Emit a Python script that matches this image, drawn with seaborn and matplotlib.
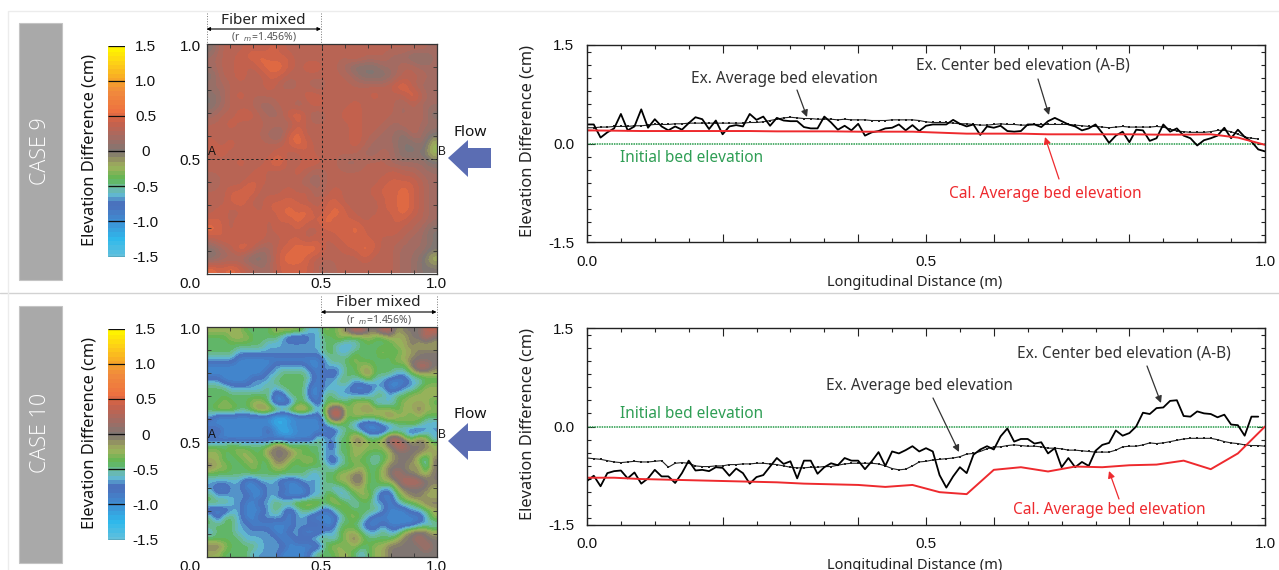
import numpy as np
import matplotlib
matplotlib.use("Agg")
import matplotlib.pyplot as plt
import seaborn as sns
from matplotlib.colors import LinearSegmentedColormap
from matplotlib.patches import Polygon, Rectangle
from matplotlib.ticker import MultipleLocator

W, H = 1279, 570

# ========== Data ==========
case9_center = [.29, .29, .09, .17, .23, .45, .20, .26, .52, .24, .37, .26, .20, .26, .21, .31, .40, .37, .22, .35,
                .14, .26, .28, .26, .45, .36, .41, .27, .39, .35, .34, .34, .25, .23, .23, .41, .32, .21, .27, .20,
                .30, .12, .17, .19, .23, .24, .29, .20, .28, .19, .27, .29, .29, .29, .36, .30, .26, .29, .13, .26,
                .24, .27, .19, .18, .19, .29, .29, .25, .34, .39, .34, .29, .26, .20, .23, .29, .16, .01, .12, .18,
                .02, .21, .20, .04, .08, .29, .18, .23, .12, .08, -.03, .05, .08, .12, .24, .08, .21, .10, .03, -.09,
                -.12]
case9_average = [.24, .24, .25, .25, .26, .26, .26, .27, .27, .28, .29, .29, .29, .30, .30, .31, .31, .31, .31, .31,
                 .31, .31, .31, .31, .32, .32, .33, .35, .37, .39, .40, .39, .38, .38, .37, .37, .37, .36, .37, .36,
                 .36, .36, .35, .35, .35, .36, .36, .36, .36, .35, .33, .32, .32, .32, .31, .30, .30, .29, .28, .28,
                 .29, .30, .29, .29, .28, .28, .29, .29, .29, .29, .29, .29, .28, .27, .26, .26, .25, .24, .25, .26,
                 .25, .25, .25, .25, .26, .25, .22, .19, .18, .17, .17, .17, .18, .20, .20, .18, .14, .10, .08, .07]
case9_cal_x = [0, .04, .08, .12, .16, .20, .24, .28, .32, .36, .40, .44, .48, .52, .56, .60, .64, .68, .72, .76, .80,
               .84, .88, .92, .96, 1.0]
case9_cal = [.20, .195, .19, .19, .19, .19, .19, .185, .185, .185, .18, .18, .18, .165, .15, .15, .15, .14, .14, .14,
             .14, .135, .135, .14, .09, -.02]

case10_center = [-.83, -.75, -.91, -.71, -.68, -.67, -.79, -.70, -.87, -.79, -.66, -.76, -.76, -.86, -.71, -.52, -.67,
                 -.66, -.68, -.62, -.63, -.75, -.64, -.71, -.87, -.77, -.74, -.61, -.48, -.57, -.53, -.79, -.52, -.52,
                 -.72, -.62, -.56, -.59, -.48, -.52, -.52, -.65, -.53, -.39, -.60, -.38, -.41, -.36, -.30, -.38, -.33,
                 -.38, -.74, -.93, -.76, -.62, -.71, -.43, -.35, -.30, -.35, -.15, -.03, -.23, -.19, -.19, -.26, -.24,
                 -.41, -.33, -.62, -.48, -.62, -.54, -.60, -.37, -.28, -.25, -.06, -.14, -.10, 0, .21, .19, .28, .29,
                 .39, .40, .16, .15, .23, .20, .19, .14, .18, .03, .02, -.14, .15, .15]
case10_average = [-.48, -.49, -.50, -.52, -.54, -.55, -.54, -.53, -.54, -.54, -.53, -.52, -.62, -.56, -.55, -.56, -.60,
                  -.61, -.61, -.60, -.60, -.58, -.58, -.57, -.57, -.56, -.56, -.57, -.58, -.60, -.62, -.63, -.63, -.62,
                  -.62, -.61, -.61, -.59, -.57, -.56, -.56, -.56, -.56, -.57, -.60, -.64, -.66, -.65, -.60, -.54, -.53,
                  -.51, -.50, -.49, -.48, -.46, -.42, -.41, -.38, -.34, -.31, -.31, -.29, -.28, -.29, -.30, -.30, -.31,
                  -.33, -.33, -.34, -.36, -.36, -.37, -.38, -.39, -.39, -.39, -.36, -.31, -.30, -.30, -.28, -.25, -.26,
                  -.25, -.23, -.21, -.19, -.18, -.18, -.18, -.18, -.20, -.23, -.25, -.26, -.28, -.29, -.29, -.30, -.30,
                  -.31, -.31, -.29, -.27]
case10_cal_x = case9_cal_x
case10_cal = [-.78, -.78, -.80, -.81, -.82, -.83, -.84, -.85, -.87, -.88, -.89, -.92, -.89, -1.0, -1.03, -.66, -.62,
              -.685, -.61, -.62, -.59, -.58, -.52, -.65, -.41, 0]

initial_x = [0, 1]
initial_bed = [0, 0]

# elevation read per cell, one letter per cell
case9_levels = {"y": -.25, "a": .04, "b": .2, "c": .33, "d": .45, "e": .58}
case9_rows = [
    "acccdcddcccc" "cccccccccccb",
    "bccddedddccc" "cccdcccbbaab",
    "bccdcdeedcdd" "ccbaaabbccbb",
    "accdccddcccc" "cccbaaabcccb",
    "bbccccdcbccb" "cccccccdecbb",
    "abcdccccdcdd" "cccccdcccecb",
    "abcccbbccbcd" "cccdccccbcbb",
    "bccddcbbdecb" "ccddccccbcca",
    "ccdcccccbdcc" "cccdcccbccbb",
    "ccccccbadecc" "cccdccbbacba",
    "dcdcccccdedc" "cccdcbbbaaby",
    "cdcccccdccdc" "ccccbbcbaaay",
    "cccdccdeccdd" "ccbbcccbbbba",
    "cccccdcccdcb" "cccccccdccbb",
    "bcccddccccbb" "ccccccddddcb",
    "ccddecccdcdb" "cdcccdddedcb",
    "ccdeccddddcc" "ddccccddedcb",
    "cdccdcddedec" "dedcccddedcb",
    "ddcdddcddedd" "edddcdcddccb",
    "edcdcdcdcdcc" "dddedcddccba",
    "cddcddccddcd" "cdddddcccbba",
    "abcedbbddeee" "ccddedccbbba",
    "abbbaabdeedc" "ccccdcccbbay",
    "ededcbbddddc" "bcccccccbbaa",
]

case10_levels = {"L": -1.15, "B": -.92, "C": -.63, "G": -.4, "O": -.2, "T": .02, "R": .36}
case10_rows = [
    "OOOOOGGGGOOOOGCC" "OGOTRRTTRROTTTRR",
    "GGGOOOGGGGCBBBCC" "GGOGGGOGGOOOTTRT",
    "GGGGGGGGCCCCCCCC" "GGCCCGGGGGOOTOOO",
    "GGGGCCCCCCCCCCCC" "GGCCGGGGOGGOOTTT",
    "CCCCBBBBBBBBBBBB" "CGGGOGGGGGOOTTTT",
    "BBBBBBBBBCCCCCBB" "CCCGGOOGGGGGTRRT",
    "BBBBBBBBCCGGGGCB" "CBCGGOTGGGCCGOOO",
    "CCBBBBCCCGGGGGCB" "CCGGCCGCCBBBCCGG",
    "GGGCCCCCGCGGGGBB" "CCCCBBBCCBBCCGOO",
    "GGGGGGGGGBBGGGBB" "GGCCCCCGGCGGOOOO",
    "GGOGGGOOGBBBGGCB" "GGGGOOOCCCGOOOOG",
    "GOOOGGOTTOGOTTOC" "ORRGOOTOOOGOOTOO",
    "CBBBBBBBBLLLBBBB" "GRRGOOGOOTOOGOGG",
    "BBBBBBBBBLLBBBBB" "CGGGCBBBCCGGOGCC",
    "CCBBBBBBCBLLBBBB" "BBCGGCBBBCCCBBCC",
    "BBBBBBBBBBBBBBBG" "CCGGTTGGORROGTOC",
    "GGGOGGGGGTTGGOGG" "CBGGOOOOOTRRTTTO",
    "OOGGOOGGTTTTOGGG" "CCGGOOGGGOTTTTOO",
    "OOGGGOOGGTTOGOOG" "CBCGOGGCGOTTTGCT",
    "TOOGGGOGGOOGGGGG" "GCGGGOGGOTTTOTCT",
    "GGGGGGGGGGGGGGCC" "GGOOTTGGOTRTTOOT",
    "CCCCCBBCCCBBBCCC" "GGOOTTGGOOTRRRTT",
    "CBBCCBBBCCCBBBCC" "GCCGOOGGCCOTTTTO",
    "GCCCCCBBCCBBBBCC" "GOCCGOOCBBGOTTOO",
    "GGGCCBBCCGGGOOOO" "GOOGCGGCCBCGGOTT",
    "BBBCCBBBCGCBCGGC" "BCGOGGGGCBBBCCGO",
    "GBGGCBBCCCCBCCBB" "BBCGOGCBBBBBBBCO",
    "GGGGCCBBBBBBCCCC" "BBGGGCBBCBBBBCCC",
    "CGGGCCCCCBBCCBBB" "CCGOOGCCGCCOTTTO",
    "GGGGGCCCCCBBCCCG" "GCGOTOGGGGOTTRTT",
    "TTOGGGGCCCCBBBBB" "GOOGOGGOOTTTTTRT",
    "OOGGGGCCCCBBBBCG" "GGOOGCGOOTTTTTTT",
]

case9_map = [[case9_levels[c] for c in row] for row in case9_rows]
case10_map = [[case10_levels[c] for c in row] for row in case10_rows]

cbar_ticks = [-1.5, -1, -.5, 0, .5, 1, 1.5]
cbar_labels = ["-1.5", "-1.0", "-0.5", "0", "0.5", "1.0", "1.5"]
map_ticks = ["0.0", "0.5", "1.0"]

# colour stops
cmap_values = [-1.5, -1.25, -1.0, -.78, -.72, -.62, -.5, -.38, -.2, -.05, 0, .25, .45, .6, .9, 1.05, 1.3, 1.5]
cmap_colors = ["#62c0dc", "#2fb9ec", "#3e8fd4", "#4a72bd", "#4a72bd", "#5fb6d6", "#6dbb9f", "#5db552", "#9fb25c",
               "#8d8465", "#7b7875", "#a86a60", "#c9604a", "#ee7040", "#f08c3c", "#f7a428", "#fdd017", "#fff200"]
stops = [(v + 1.5) / 3 for v in cmap_values]
elev_cmap = LinearSegmentedColormap.from_list("elev", list(zip(stops, cmap_colors)), N=48)

# ========== Figure ==========
sns.set_style("white")
plt.rcParams["font.family"] = ["Liberation Sans", "DejaVu Sans"]
JP_FONT = "Noto Sans"
TXT = "#333333"
RED = "#ee2a2e"

fig = plt.figure(figsize=(W / 100, H / 100), dpi=100)


def px_axes(x0, y0, x1, y1):
    return fig.add_axes([x0 / W, 1 - y1 / H, (x1 - x0) / W, (y1 - y0) / H])


# overlay in pixel coordinates for the labels and decorations
over = fig.add_axes([0, 0, 1, 1], zorder=10)
over.set_xlim(0, W)
over.set_ylim(H, 0)
over.axis("off")
over.patch.set_alpha(0)

for xs, ys, col in [([9, W], [11, 11], "#ececec"), ([0, W], [293, 293], "#d2d2d2"), ([8, 8], [11, H], "#ececec")]:
    over.plot(xs, ys, color=col, lw=1)


def draw_panel(top, name, name_y, map_data, fiber_x0, fiber_x1, center, average, cal_x, cal, notes):
    over.add_patch(Rectangle((19, top + 23), 43, 257, fc="#a9a9a9", ec="#c4c4c4", lw=.8))
    over.text(41, top + name_y, name, color="white", rotation=90, ha="center", va="center",
              fontsize=15.5, family="Open Sans", fontweight="light")

    # colour bar + map
    ax_map = px_axes(206.5, top + 44, 436.5, top + 273.5)
    im = ax_map.imshow(map_data, extent=[0, 1, 0, 1], aspect="auto", cmap=elev_cmap, vmin=-1.5, vmax=1.5,
                       interpolation="bicubic")
    ax_map.axhline(.5, color="#222222", lw=.7, ls=(0, (2.5, 2.5)))
    ax_map.axvline(.5, color="#222222", lw=.7, ls=(0, (2.5, 2.5)))
    ax_map.xaxis.set_major_locator(MultipleLocator(.2))
    ax_map.yaxis.set_major_locator(MultipleLocator(.2))
    ax_map.xaxis.set_minor_locator(MultipleLocator(.1))
    ax_map.yaxis.set_minor_locator(MultipleLocator(.1))
    ax_map.tick_params(which="both", direction="in", top=True, right=True, bottom=True, left=True, length=3,
                       width=.6, color="#333333", labelbottom=False, labelleft=False)
    for s in ax_map.spines.values():
        s.set_visible(True)
        s.set_color("#333333")
        s.set_linewidth(.9)

    cax = px_axes(108, top + 45.5, 125, top + 256.5)
    cb = fig.colorbar(im, cax=cax, ticks=cbar_ticks)
    cb.outline.set_visible(False)
    cb.solids.set_edgecolor("face")
    cb.ax.tick_params(length=0, pad=15, labelsize=11)
    cb.ax.set_yticklabels(cbar_labels)
    for lab in cb.ax.get_yticklabels():
        lab.set_ha("center")
        lab.set_color("#111111")
    cb.ax.hlines(cbar_ticks, 0, 1, color="#111111", lw=.9, transform=cb.ax.get_yaxis_transform())

    over.text(90, top + 150, "Elevation Difference (cm)", rotation=90, ha="center", va="center",
              fontsize=11.8, family=JP_FONT, color="#111111")

    for label, y in zip(map_ticks[::-1], [47, 161]):
        over.text(190, top + y, label, ha="center", va="center", fontsize=11, color="#111111")
    for label, x in zip(map_ticks, [190, 321, 436]):
        over.text(x, top + 284, label, ha="center", va="center", fontsize=11, color="#111111")
    over.text(212, top + 152, "A", ha="center", va="center", fontsize=8.5, color="#111111")
    over.text(442, top + 152, "B", ha="center", va="center", fontsize=8.5, color="#111111")

    # fibre bracket
    mid = (fiber_x0 + fiber_x1) / 2
    for x in (fiber_x0, fiber_x1):
        over.plot([x, x], [top + 13, top + 44], color="#777777", lw=.7, ls=":")
    over.annotate("", xy=(fiber_x0, top + 29), xytext=(fiber_x1, top + 29),
                  arrowprops=dict(arrowstyle="<|-|>", color="black", lw=.8, shrinkA=0, shrinkB=0, mutation_scale=5))
    over.text(mid, top + 20, "Fiber mixed", ha="center", va="center", fontsize=11, family=JP_FONT, color="#222222")
    over.text(mid, top + 37, "(r  $_{m}$=1.456%)", ha="center", va="center", fontsize=7.5, family=JP_FONT,
              color="#555555")

    # flow arrow
    over.add_patch(Polygon([(448, top + 158), (468, top + 140), (468, top + 148), (491, top + 148), (491, top + 168),
                            (468, top + 168), (468, top + 177)], fc="#5b6db3", ec="none"))
    over.text(470, top + 132, "Flow", ha="center", va="center", fontsize=11, family=JP_FONT, color="#111111")

    # profile axes
    ax = px_axes(587, top + 45, 1265, top + 242)
    sns.lineplot(x=initial_x, y=initial_bed, ax=ax, color="#259a48", lw=1.1, ls=(0, (1, .6)))
    sns.lineplot(x=np.arange(len(average)) * .01, y=average, ax=ax, color="#222222", lw=.8, marker="s",
                 markersize=1.6, markeredgewidth=0)
    sns.lineplot(x=np.arange(len(center)) * .01, y=center, ax=ax, color="black", lw=1.3)
    sns.lineplot(x=cal_x, y=cal, ax=ax, color=RED, lw=1.4)
    ax.set_xlim(0, 1)
    ax.set_ylim(-1.5, 1.5)
    ax.set_xticks([0, .2, .4, .5, .6, .8, 1])
    ax.set_xticklabels(["0.0", "", "", "0.5", "", "", "1.0"], fontsize=11, color="#111111")
    ax.set_yticks([-1.5, 0, 1.5])
    ax.set_yticklabels(["-1.5", "0.0", "1.5"], fontsize=11, color="#111111")
    ax.xaxis.set_minor_locator(MultipleLocator(.05))
    ax.yaxis.set_minor_locator(MultipleLocator(.2))
    ax.tick_params(which="major", direction="in", top=True, right=True, bottom=True, left=True, length=6, width=.8,
                   color="#222222", pad=9)
    ax.tick_params(which="minor", direction="in", top=True, right=True, bottom=True, left=True, length=3, width=.8,
                   color="#222222")
    for s in ax.spines.values():
        s.set_visible(True)
        s.set_color("#222222")
        s.set_linewidth(1)

    over.text(914.5, top + 282.5, "Longitudinal Distance (m)", ha="center", va="center", fontsize=10.5,
              family=JP_FONT, color="#222222")
    over.text(528, top + 141, "Elevation Difference (cm)", rotation=90, ha="center", va="center", fontsize=11.8,
              family=JP_FONT, color="#222222")

    over.text(620, top + notes["init_y"], "Initial bed elevation", color="#2f9e55", fontsize=11.1, family=JP_FONT,
              va="center")
    for text, x, y, x0, y0, x1, y1, col in notes["items"]:
        over.text(x, top + y, text, color=col, fontsize=11.1, family=JP_FONT, va="center")
        over.annotate("", xy=(x1, top + y1), xytext=(x0, top + y0),
                      arrowprops=dict(arrowstyle="-|>", color=col, lw=.9, shrinkA=0, shrinkB=0, mutation_scale=10))


draw_panel(0, "CASE 9", 151, case9_map, 206.5, 321, case9_center, case9_average, case9_cal_x, case9_cal, {
    "init_y": 158.5,
    "items": [
        ("Ex. Average bed elevation", 691, 79, 797, 90, 807, 117, TXT),
        ("Ex. Center bed elevation (A-B)", 916, 66, 1038, 79, 1049, 115, TXT),
        ("Cal. Average bed elevation", 949, 194, 1059, 179, 1045, 137, RED),
    ]})
draw_panel(283, "CASE 10", 150, case10_map, 321, 436.5, case10_center, case10_average, case10_cal_x, case10_cal, {
    "init_y": 131.5,
    "items": [
        ("Ex. Average bed elevation", 826, 103, 933, 115, 959, 169, TXT),
        ("Ex. Center bed elevation (A-B)", 1017, 70, 1147, 83, 1161, 120, TXT),
        ("Cal. Average bed elevation", 1013, 227, 1119, 216, 1109, 188, RED),
    ]})

fig.savefig("out.png", dpi=100)
